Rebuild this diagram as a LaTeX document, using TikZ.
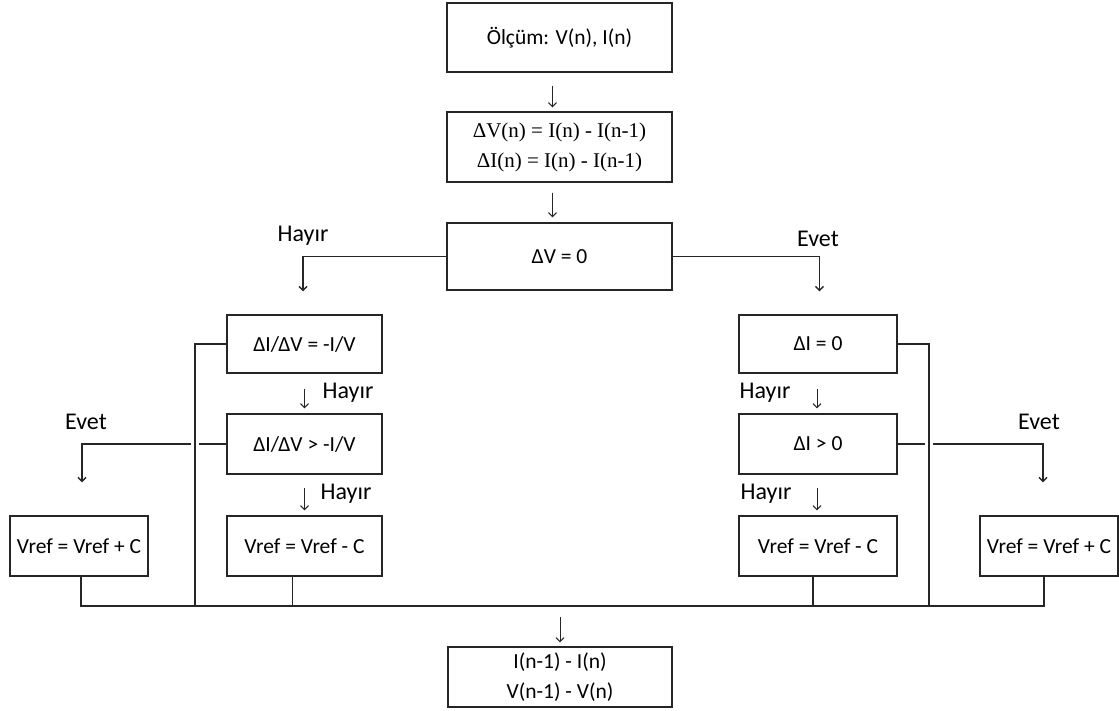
\documentclass[tikz,border=0pt]{standalone}
\usepackage{fontspec}
\setmainfont{Carlito}
\newfontfamily\serifbox{Liberation Serif}
\usetikzlibrary{arrows.meta,calc}
\begin{document}
\begin{tikzpicture}[x=1pt,y=-1pt,
  box/.style={draw=black!85, line width=1.4pt, inner sep=0pt, align=center, font=\fontsize{21.5}{30}\selectfont},
  wire/.style={draw=black!85, line width=1.4pt},
  tip/.style={-{Straight Barb[length=4pt,width=8pt]}},
  arr/.style={draw=black!85, line width=1pt, -{Straight Barb[length=4pt,width=8pt]}},
  lbl/.style={font=\fontsize{24}{26}\selectfont, inner sep=0pt}]
\useasboundingbox (0,0) rectangle (1119,710);

\node[box, minimum width=225, minimum height=69] (top) at (559.5,37.5) {Ölçüm: V(n), I(n)};
\node[box, font=\serifbox\fontsize{21}{30}\selectfont, minimum width=225, minimum height=70] (d2) at (559.5,147) {ΔV(n) = I(n) - I(n-1)\\ΔI(n) = I(n) - I(n-1)};
\node[box, minimum width=225, minimum height=67] (dv) at (559.5,256.5) {ΔV = 0};
\node[box, minimum width=155, minimum height=58] (L1) at (304.5,344) {ΔI/ΔV = -I/V};
\node[box, minimum width=155, minimum height=60] (L2) at (304.5,444) {ΔI/ΔV > -I/V};
\node[box, minimum width=155, minimum height=60] (L3) at (304.5,546) {Vref = Vref - C};
\node[box, minimum width=138, minimum height=60] (L4) at (79,546) {Vref = Vref + C};
\node[box, minimum width=158, minimum height=58] (R1) at (818,344) {ΔI = 0};
\node[box, minimum width=158, minimum height=60] (R2) at (818,444) {ΔI > 0};
\node[box, minimum width=158, minimum height=60] (R3) at (818,546) {Vref = Vref - C};
\node[box, minimum width=138, minimum height=60] (R4) at (1049,546) {Vref = Vref + C};
\node[box, minimum width=224, minimum height=60] (bot) at (560,677) {I(n-1) - I(n)\\V(n-1) - V(n)};

\coordinate (bus) at (560,606);
\coordinate (lv) at (195,606);
\coordinate (rv) at (929,606);

% main vertical arrows
\draw[arr, shorten <=13pt, shorten >=4pt] ($(top.south)+(-7,0)$) -- ($(d2.north)+(-7,0)$);
\draw[arr, shorten <=10pt, shorten >=5pt] ($(d2.south)+(-7,0)$) -- ($(dv.north)+(-7,0)$);

% first decision branches
\draw[wire, tip, shorten >=23pt] (dv.west) -| ($(L1.north)+(-1.5,0)$);
\draw[wire, tip, shorten >=23pt] (dv.east) -| ($(R1.north)+(1.5,0)$);

% inner chains
\draw[arr, shorten <=15pt, shorten >=5pt] (L1.south) -- (L2.north);
\draw[arr, shorten <=13pt, shorten >=5pt] (L2.south) -- (L3.north);
\draw[arr, shorten <=15pt, shorten >=5pt] ($(R1.south)+(-1,0)$) -- ($(R2.north)+(-1,0)$);
\draw[arr, shorten <=13pt, shorten >=5pt] ($(R2.south)+(-1,0)$) -- ($(R3.north)+(-1,0)$);

% yes branches with gap over the bus
\draw[wire] (L2.west) -- ($(L2.west -| lv)+(4,0)$);
\draw[wire, tip, shorten >=33pt] ($(L2.west -| lv)+(-4,0)$) -| ($(L4.north)+(3,0)$);
\draw[wire] (R2.east) -- ($(R2.east -| rv)+(-4,0)$);
\draw[wire, tip, shorten >=33pt] ($(R2.east -| rv)+(4,0)$) -| ($(R4.north)+(-6,0)$);

% collecting bus
\draw[wire] (L1.west) -| (lv);
\draw[wire] (R1.east) -| (rv);
\draw[wire] ($(L4.south)+(2,0)$) |- (bus) -| ($(R4.south)+(-5,0)$);
\draw[wire] ($(L3.south)+(-12,0)$) -- ($(L3.south |- bus)+(-12,0)$);
\draw[wire] ($(R3.south)+(-5,0)$) -- ($(R3.south |- bus)+(-5,0)$);
\draw[arr, shorten <=11pt, shorten >=4pt] (bus) -- (bot.north);

% labels
\node[lbl] (h0) at (303,236) {Hayır};
\node[lbl] (e0) at (818,239) {Evet};
\node[lbl] (h1) at (348,393) {Hayır};
\node[lbl] (h2) at (346,494) {Hayır};
\node[lbl] (h3) at (765,393) {Hayır};
\node[lbl] (h4) at (766,494) {Hayır};
\node[lbl] (e1) at (86,422) {Evet};
\node[lbl] (e2) at (1039,422) {Evet};
\end{tikzpicture}
\end{document}
